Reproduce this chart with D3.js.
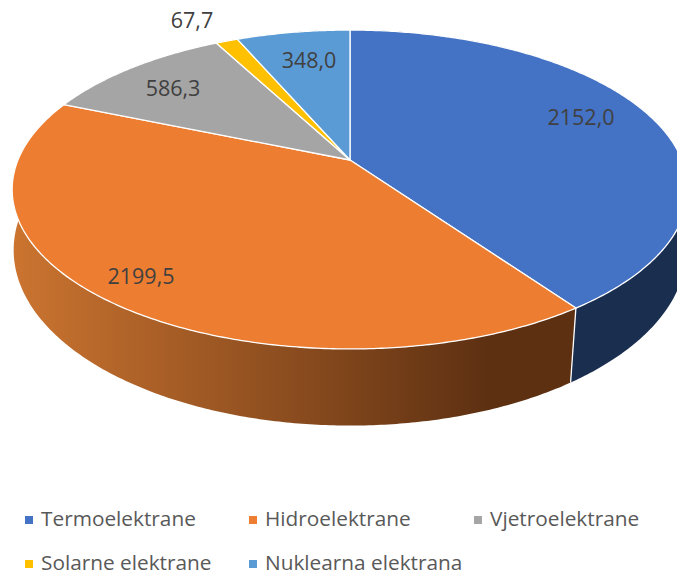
<!DOCTYPE html>
<html><head><meta charset="utf-8">
<script src="https://cdn.jsdelivr.net/npm/d3@7"></script>
<style>html,body{margin:0;padding:0;background:#fff;overflow:hidden}svg{display:block}text{font-family:"Open Sans",sans-serif}</style>
</head><body><svg id="c" width="677" height="573"></svg>
<script>
const categories = ["Termoelektrane","Hidroelektrane","Vjetroelektrane","Solarne elektrane","Nuklearna elektrana"];
const values = [2152.0,2199.5,586.3,67.7,348.0];
const colors = ["#4472c4","#ed7d31","#a5a5a5","#ffc000","#5b9bd5"];
const wallColors = ["#1a2e50","url(#orangeWall)","#636363","#997300","#2c5c88"];

const svg = d3.select("#c");
const top3d = {x0:350,y0:160,a:332,b:154,k:-0.185};
const bot3d = {x0:350,y0:222,a:332,b:171,k:-0.16};
const project = (p,ang)=>{const u=Math.sin(ang),v=-Math.cos(ang),d=1+p.k*v;return [p.x0+p.a*u/d,p.y0+p.b*v/d];};
const pie = d3.pie().sort(null).value(d=>d);
const arcs = pie(values);
const line = d3.line();
const samples = (a0,a1)=>d3.range(0,1.0001,1/Math.max(2,Math.ceil((a1-a0)/0.01))).map(t=>a0+(a1-a0)*t);

const grad = svg.append("defs").append("linearGradient").attr("id","orangeWall")
  .attr("gradientUnits","userSpaceOnUse").attr("x1",14).attr("x2",490).attr("y1",0).attr("y2",0);
grad.append("stop").attr("offset",0).attr("stop-color","#cb7430");
grad.append("stop").attr("offset",1).attr("stop-color","#5d3012");

// side walls
svg.append("g").selectAll("path").data(arcs).join("path")
  .attr("d",d=>{const s=samples(d.startAngle,d.endAngle);
    return line(s.map(a=>project(top3d,a)).concat(s.slice().reverse().map(a=>project(bot3d,a))))+"Z";})
  .attr("fill",(d,i)=>wallColors[i]);

// visible wall seams
svg.append("g").selectAll("line").data(arcs.filter(d=>Math.cos(d.endAngle)<0)).join("line")
  .each(function(d){const t=project(top3d,d.endAngle),b=project(bot3d,d.endAngle);
    d3.select(this).attr("x1",t[0]).attr("y1",t[1]).attr("x2",b[0]).attr("y2",b[1]);})
  .attr("stroke","#fff").attr("stroke-width",1.3);

// top faces
svg.append("g").selectAll("path").data(arcs).join("path")
  .attr("d",d=>line([[top3d.x0,top3d.y0]].concat(samples(d.startAngle,d.endAngle).map(a=>project(top3d,a))))+"Z")
  .attr("fill",(d,i)=>colors[i]).attr("stroke","#fff").attr("stroke-width",1.3).attr("stroke-linejoin","round");

// data labels
const labelTexts = values.map(v=>v.toFixed(1).replace(".",","));
const labelPos = [[581,125],[141,284],[173,96],[192,28],[309,68]];
svg.append("g").selectAll("text").data(labelTexts).join("text")
  .attr("x",(d,i)=>labelPos[i][0]).attr("y",(d,i)=>labelPos[i][1])
  .attr("text-anchor","middle").attr("font-size",21.5).attr("fill","#404040").text(d=>d);

// legend
const legendPos = [[25,526],[249,526],[474,526],[25,570],[249,570]];
const lg = svg.append("g").selectAll("g").data(categories).join("g")
  .attr("transform",(d,i)=>`translate(${legendPos[i][0]},${legendPos[i][1]})`);
lg.append("rect").attr("x",0).attr("y",-10).attr("width",8).attr("height",8).attr("fill",(d,i)=>colors[i]);
lg.append("text").attr("x",16).attr("y",0).attr("font-size",20.8).attr("fill","#595959").text(d=>d);
</script></body></html>
